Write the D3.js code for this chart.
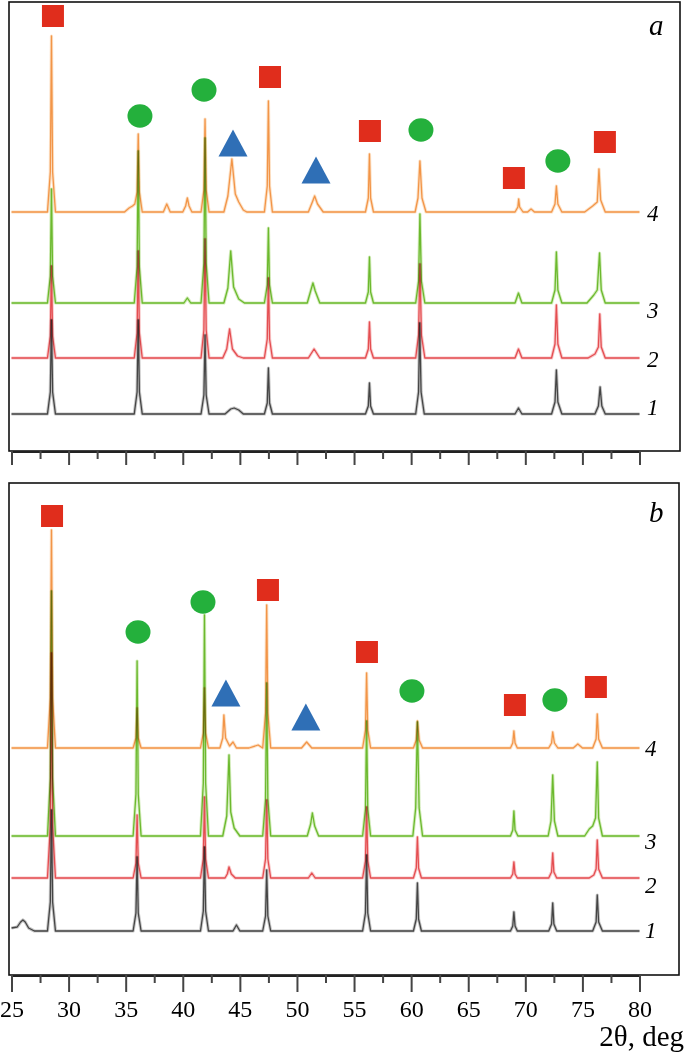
<!DOCTYPE html>
<html>
<head>
<meta charset="utf-8">
<script src="https://cdn.jsdelivr.net/npm/d3@7"></script>
<style>
  body { margin: 0; background: #fff; }
  svg { display: block; }
  text { font-family: "Liberation Serif", "Times New Roman", serif; fill: #000; }
</style>
</head>
<body>
<svg id="chart"></svg>
<script>
/* axis ticks (2θ, deg) */
const majorTicks = [25, 30, 35, 40, 45, 50, 55, 60, 65, 70, 75, 80];
const minorTicks = [27.5, 32.5, 37.5, 42.5, 47.5, 52.5, 57.5, 62.5, 67.5, 72.5, 77.5];
const traceNames = ["1", "2", "3", "4"];

/* vertical offset of each pattern (a.u.) and level of its label */
const offsetsA = [0, 56, 111, 202];
const offsetsB = [0, 53, 95, 183];
const labelLevelsA = [7.5, 55.5, 104, 201];
const labelLevelsB = [1, 46.5, 90.5, 183.5];

/* panel a, patterns 1..4 : [2θ, intensity] */
const a1 = [[25,0],
  [28.15,0],[28.4,22],[28.5,94],[28.6,22],[28.85,0],
  [35.75,0],[36.0,22],[36.1,94],[36.2,22],[36.45,0],
  [41.6,0],[41.85,19],[41.95,79],[42.05,19],[42.3,0],
  [43.7,0],[44.2,5],[44.5,6],[44.9,4],[45.3,0],
  [47.15,0],[47.4,11],[47.5,46],[47.6,11],[47.85,0],
  [56.0,0],[56.25,8],[56.35,31],[56.45,8],[56.7,0],
  [60.4,0],[60.65,22],[60.75,91],[60.87,22],[61.15,0],
  [69.1,0],[69.4,6],[69.7,0],
  [72.3,0],[72.6,12],[72.72,44],[72.85,12],[73.2,0],
  [76.1,0],[76.4,8],[76.55,27],[76.7,8],[77.0,0],
  [80,0]];
const a2 = [[25,0],
  [28.15,0],[28.4,22],[28.5,92],[28.6,22],[28.85,0],
  [35.75,0],[36.0,25],[36.1,107],[36.2,25],[36.45,0],
  [41.6,0],[41.85,28],[41.95,119],[42.05,28],[42.3,0],
  [43.5,0],[43.85,9],[44.1,29],[44.35,9],[44.8,2],[45.3,0],
  [47.15,0],[47.4,19],[47.5,80],[47.6,19],[47.85,0],
  [51.0,0],[51.5,9],[52.0,0],
  [56.0,0],[56.25,9],[56.35,36],[56.45,9],[56.7,0],
  [60.4,0],[60.65,23],[60.77,94],[60.9,23],[61.2,0],
  [69.1,0],[69.4,9],[69.7,0],
  [72.3,0],[72.6,14],[72.72,53],[72.85,14],[73.2,0],
  [75.5,0],[76.1,4],[76.4,11],[76.52,44],[76.65,11],[77.0,0],
  [80,0]];
const a3 = [[25,0],
  [28.15,0],[28.4,27],[28.5,114],[28.6,27],[28.85,0],
  [35.75,0],[36.0,36],[36.1,152],[36.2,36],[36.45,0],
  [40.1,0],[40.4,5],[40.7,0],
  [41.6,0],[41.85,40],[41.95,165],[42.05,40],[42.3,0],
  [43.6,0],[43.95,15],[44.2,52],[44.45,16],[44.9,4],[45.4,0],
  [47.15,0],[47.4,18],[47.5,75],[47.6,18],[47.85,0],
  [50.9,0],[51.25,14],[51.4,20],[51.6,12],[52.0,0],
  [56.0,0],[56.25,11],[56.35,46],[56.45,11],[56.7,0],
  [60.4,0],[60.65,22],[60.77,89],[60.9,22],[61.2,0],
  [69.1,0],[69.4,10],[69.7,0],
  [72.3,0],[72.6,13],[72.72,51],[72.85,13],[73.2,0],
  [75.4,0],[76.0,8],[76.3,13],[76.5,50],[76.65,13],[77.0,0],
  [80,0]];
const a4 = [[25,0],
  [28.15,0],[28.4,40],[28.5,176],[28.6,40],[28.85,0],
  [34.9,0],[35.3,4],[35.6,6],[35.8,8],[36.0,20],[36.1,78],[36.2,20],[36.45,0],
  [38.3,0],[38.6,8],[38.9,0],
  [40.0,0],[40.25,6],[40.4,14],[40.55,6],[40.8,0],
  [41.6,0],[41.85,22],[41.95,93],[42.05,22],[42.3,0],
  [43.6,0],[43.95,16],[44.3,53],[44.6,18],[44.9,10],[45.3,2],[45.6,0],
  [47.15,0],[47.4,26],[47.5,111],[47.6,26],[47.85,0],
  [51.0,0],[51.35,10],[51.55,16],[51.8,8],[52.3,0],
  [56.0,0],[56.25,14],[56.35,58],[56.45,14],[56.7,0],
  [60.35,0],[60.6,14],[60.77,51],[60.95,14],[61.3,0],
  [69.1,0],[69.35,5],[69.42,13],[69.5,5],[69.8,0],
  [70.2,0],[70.5,3],[70.8,0],
  [72.3,0],[72.6,8],[72.72,26],[72.85,8],[73.2,0],
  [75.2,0],[75.9,6],[76.3,10],[76.45,43],[76.6,12],[77.0,0],
  [80,0]];

/* panel b, patterns 1..4 */
const b1 = [[25,3],[25.5,4],[25.8,9],[26.0,11],[26.2,9],[26.5,3],[27,0],
  [28.15,0],[28.4,29],[28.5,121],[28.6,29],[28.85,0],
  [35.65,0],[35.9,18],[36.0,74],[36.1,18],[36.35,0],
  [41.55,0],[41.8,20],[41.9,84],[42.0,20],[42.25,0],
  [44.4,0],[44.7,6],[45.0,0],
  [47.0,0],[47.25,15],[47.35,61],[47.45,15],[47.7,0],
  [55.75,0],[56.0,18],[56.1,76],[56.2,18],[56.45,0],
  [60.2,0],[60.45,12],[60.55,48],[60.65,12],[60.9,0],
  [68.7,0],[68.9,5],[69.0,19],[69.1,5],[69.3,0],
  [72.05,0],[72.3,7],[72.4,28],[72.5,7],[72.75,0],
  [75.9,0],[76.2,9],[76.3,36],[76.42,9],[76.75,0],
  [80,0]];
const b2 = [[25,0],
  [28.15,0],[28.4,52],[28.5,225],[28.6,52],[28.85,0],
  [35.65,0],[35.9,15],[36.0,63],[36.1,15],[36.35,0],
  [41.55,0],[41.8,19],[41.9,81],[42.0,19],[42.25,0],
  [43.7,0],[43.9,4],[44.05,11],[44.25,4],[44.6,0],
  [47.0,0],[47.25,19],[47.35,78],[47.45,19],[47.7,0],
  [51.0,0],[51.3,5],[51.6,0],
  [55.75,0],[56.0,17],[56.1,71],[56.2,17],[56.45,0],
  [60.2,0],[60.45,10],[60.55,41],[60.65,10],[60.9,0],
  [68.7,0],[68.9,4],[69.0,16],[69.1,4],[69.3,0],
  [72.05,0],[72.3,6],[72.4,25],[72.5,6],[72.75,0],
  [75.6,0],[76.0,3],[76.2,9],[76.3,38],[76.42,9],[76.75,0],
  [80,0]];
const b3 = [[25,0],
  [28.15,0],[28.4,58],[28.5,245],[28.6,58],[28.85,0],
  [35.65,0],[35.9,42],[36.0,175],[36.1,42],[36.35,0],
  [41.55,0],[41.8,53],[41.9,221],[42.0,53],[42.25,0],
  [43.5,0],[43.85,20],[44.05,81],[44.2,24],[44.5,8],[45.0,0],
  [47.0,0],[47.25,37],[47.35,153],[47.45,37],[47.7,0],
  [50.9,0],[51.2,12],[51.35,23],[51.55,10],[51.9,0],
  [55.75,0],[56.0,27],[56.1,115],[56.2,27],[56.45,0],
  [60.15,0],[60.4,28],[60.55,114],[60.7,28],[61.0,0],
  [68.7,0],[68.9,6],[69.0,25],[69.1,6],[69.35,0],
  [72.0,0],[72.25,15],[72.4,61],[72.55,15],[72.85,0],
  [75.2,0],[75.6,7],[75.9,10],[76.15,18],[76.3,74],[76.42,18],[76.75,0],
  [80,0]];
const b4 = [[25,0],
  [28.15,0],[28.4,50],[28.5,218],[28.6,50],[28.85,0],
  [35.65,0],[35.9,10],[36.0,40],[36.1,10],[36.35,0],
  [41.55,0],[41.8,15],[41.9,60],[42.0,15],[42.25,0],
  [43.25,0],[43.5,10],[43.6,33],[43.75,10],[44.1,2],[44.4,6],[44.7,0],
  [45.8,0],[46.6,3],[47.0,0],[47.25,35],[47.35,143],[47.45,35],[47.7,0],
  [50.4,0],[50.85,6],[51.3,0],
  [55.75,0],[56.0,18],[56.1,75],[56.2,18],[56.45,0],
  [60.2,0],[60.45,8],[60.55,27],[60.7,8],[61.0,0],
  [68.7,0],[68.9,5],[69.0,17],[69.1,5],[69.3,0],
  [72.05,0],[72.3,5],[72.4,16],[72.55,5],[72.85,0],
  [74.2,0],[74.6,4],[75.0,0],
  [75.9,0],[76.2,9],[76.3,34],[76.42,9],[76.75,0],
  [80,0]];

/* phase markers [2θ, level] */
const squaresA = [[28.63,398],[47.64,337],[56.39,283],[69.0,236],[76.97,272]];
const circlesA = [[36.25,298],[41.86,324],[60.86,284],[72.85,253]];
const trianglesA = [[44.4,271],[51.67,244]];
const squaresB = [[28.55,415],[47.46,341],[56.13,279],[69.09,226],[76.18,244]];
const circlesB = [[36.08,299],[41.77,329],[60.07,240],[72.59,231]];
const trianglesB = [[43.78,238],[50.78,214]];

const WIDTH = 685, HEIGHT = 1056;
const COLORS = ["#3c3c3c", "#e8474c", "#6cbf1c", "#f49a40"];

const svg = d3.select("#chart")
    .attr("width", WIDTH)
    .attr("height", HEIGHT);

svg.append("rect").attr("width", WIDTH).attr("height", HEIGHT).attr("fill", "#fff");

const x = d3.scaleLinear().domain([25, 80]).range([11.5, 639.5]);

const panels = [
    { name: "a", top: 2, bottom: 451, left: 9, right: 680, domain: [-37, 412], tick: 14,
      traces: [a1, a2, a3, a4], offsets: offsetsA, labels: labelLevelsA, labelX: 647,
      squares: squaresA, circles: circlesA, triangles: trianglesA, tickLabels: false, letterY: 35 },
    { name: "b", top: 483, bottom: 975, left: 9, right: 679, domain: [-44, 448], tick: 17,
      traces: [b1, b2, b3, b4], offsets: offsetsB, labels: labelLevelsB, labelX: 645,
      squares: squaresB, circles: circlesB, triangles: trianglesB, tickLabels: true, letterY: 522 }
];

panels.forEach(p => {
    const y = d3.scaleLinear().domain(p.domain).range([p.bottom, p.top]);
    const g = svg.append("g").attr("class", "panel-" + p.name);

    /* frame */
    g.append("rect")
        .attr("x", p.left).attr("y", p.top)
        .attr("width", p.right - p.left).attr("height", p.bottom - p.top)
        .attr("fill", "none").attr("stroke", "#111").attr("stroke-width", 1.6);

    /* patterns: pale halo + core line */
    p.traces.forEach((data, i) => {
        const line = d3.line()
            .x(d => x(d[0]))
            .y(d => y(d[1] + p.offsets[i]));
        g.append("path")
            .attr("d", line(data))
            .attr("fill", "none")
            .attr("stroke", COLORS[i])
            .attr("stroke-width", 3.2)
            .attr("stroke-linejoin", "round")
            .style("opacity", 0.3)
            .style("mix-blend-mode", "multiply");
        g.append("path")
            .attr("d", line(data))
            .attr("fill", "none")
            .attr("stroke", COLORS[i])
            .attr("stroke-width", 1.3)
            .attr("stroke-linejoin", "round")
            .style("opacity", 0.85)
            .style("mix-blend-mode", "multiply");
    });

    /* pattern numbers */
    g.selectAll(".num")
        .data(traceNames).enter()
        .append("text")
        .attr("class", "num")
        .attr("x", p.labelX)
        .attr("y", (d, i) => y(p.labels[i]))
        .attr("dy", "0.35em")
        .attr("font-size", 23)
        .attr("font-style", "italic")
        .text(d => d);

    /* panel letter */
    g.append("text")
        .attr("x", 649).attr("y", p.letterY)
        .attr("font-size", 29)
        .attr("font-style", "italic")
        .text(p.name);

    /* markers */
    g.selectAll(".sq")
        .data(p.squares).enter()
        .append("rect")
        .attr("x", d => x(d[0]) - 11).attr("y", d => y(d[1]) - 11)
        .attr("width", 22).attr("height", 22)
        .attr("fill", "#e02d1c");
    g.selectAll(".ci")
        .data(p.circles).enter()
        .append("ellipse")
        .attr("cx", d => x(d[0])).attr("cy", d => y(d[1]))
        .attr("rx", 12.5).attr("ry", 11.8)
        .attr("fill", "#24b03c");
    g.selectAll(".tr")
        .data(p.triangles).enter()
        .append("path")
        .attr("d", "M0,-13.5L14.5,13.5L-14.5,13.5Z")
        .attr("transform", d => `translate(${x(d[0])},${y(d[1])})`)
        .attr("fill", "#2f6fb6");

    /* axis */
    g.append("line")
        .attr("x1", x(25)).attr("x2", x(80))
        .attr("y1", p.bottom + 1).attr("y2", p.bottom + 1)
        .attr("stroke", "#222").attr("stroke-width", 2);

    const major = d3.axisBottom(x).tickValues(majorTicks).tickSize(p.tick).tickPadding(8)
        .tickFormat(p.tickLabels ? d3.format("d") : "");
    const minor = d3.axisBottom(x).tickValues(minorTicks).tickSize(8).tickFormat("");

    const ax = g.append("g").attr("transform", `translate(0, ${p.bottom})`).call(major);
    ax.select(".domain").remove();
    ax.selectAll(".tick line").attr("stroke", "#444").attr("stroke-width", 2);
    ax.selectAll(".tick text")
        .attr("font-family", '"Liberation Serif", serif')
        .attr("font-size", 24)
        .attr("fill", "#000");

    const axm = g.append("g").attr("transform", `translate(0, ${p.bottom})`).call(minor);
    axm.select(".domain").remove();
    axm.selectAll(".tick line").attr("stroke", "#444").attr("stroke-width", 2);
});

/* axis title */
svg.append("text")
    .attr("x", 684).attr("y", 1046)
    .attr("text-anchor", "end")
    .attr("font-size", 29)
    .text("2θ, deg");
</script>
</body>
</html>
